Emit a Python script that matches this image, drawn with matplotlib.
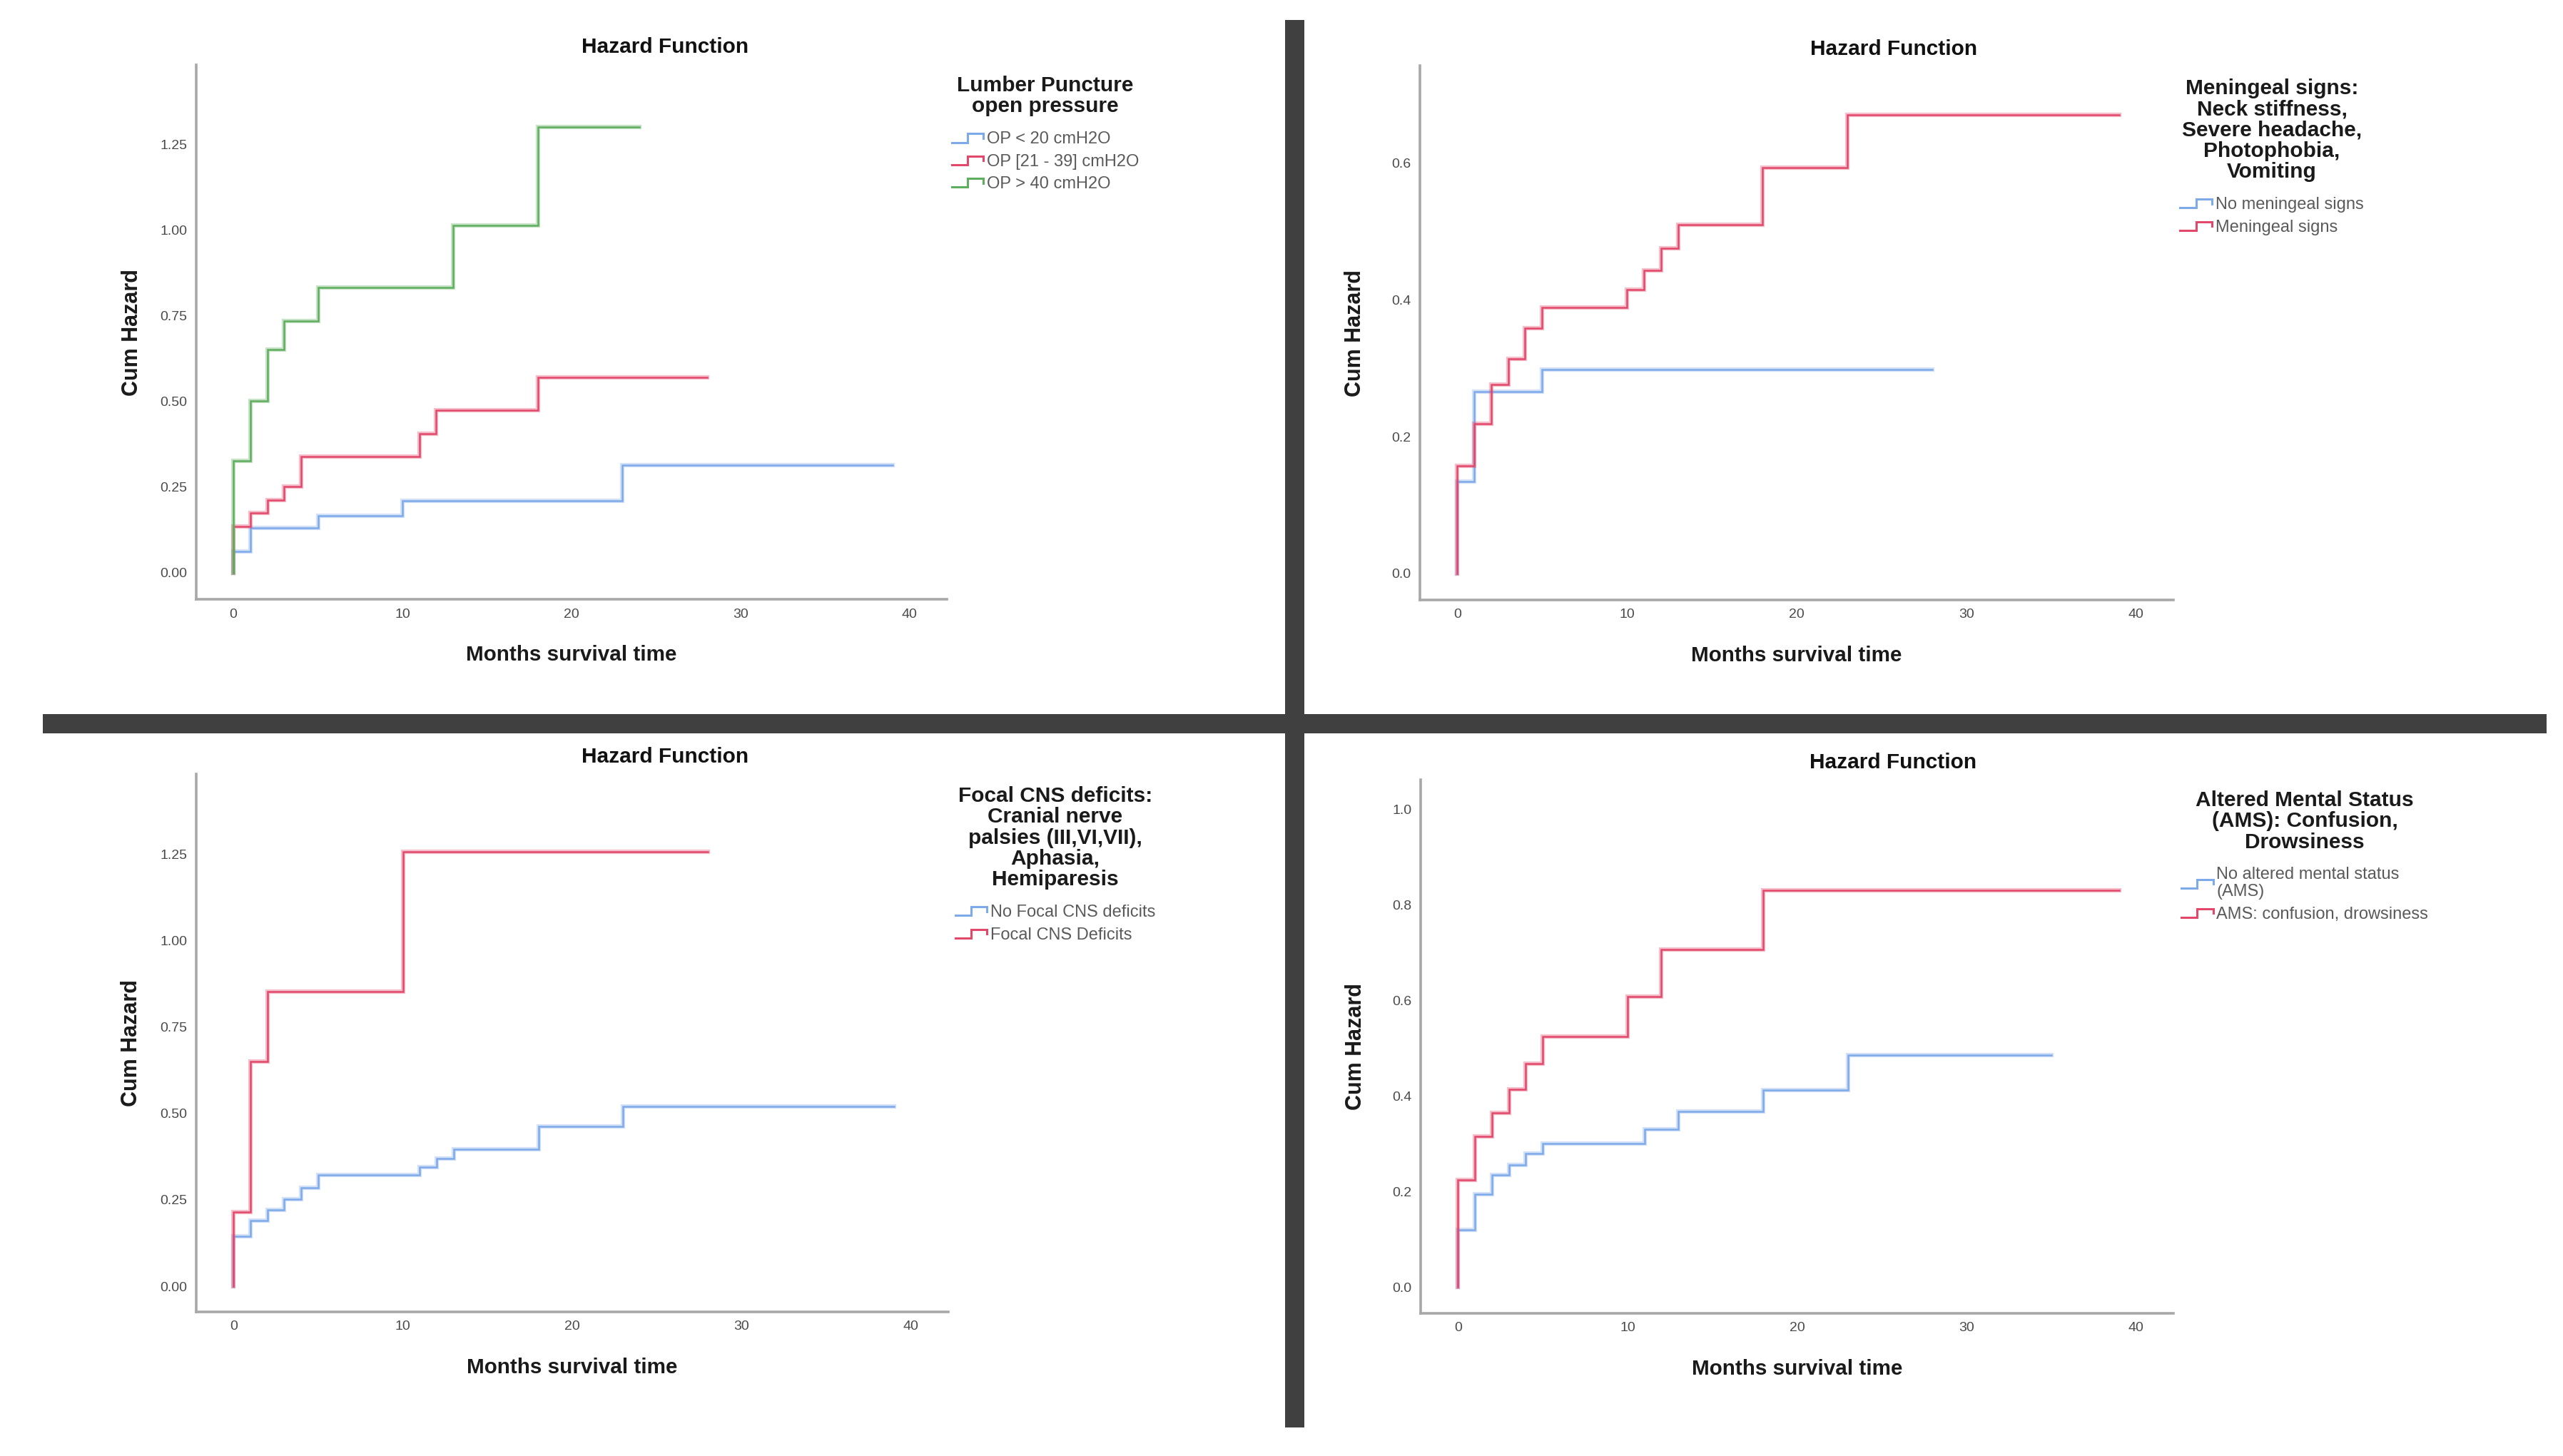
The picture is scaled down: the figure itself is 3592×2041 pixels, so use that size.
import matplotlib
matplotlib.use("Agg")
import matplotlib.pyplot as plt
from matplotlib.lines import Line2D
from matplotlib.legend_handler import HandlerBase
from matplotlib.patches import Rectangle

plt.rcParams['font.family'] = ['Liberation Sans', 'DejaVu Sans']

W, H = 3592, 2041
DPI = 100

BLUE = '#7eaaea'
RED = '#e2486a'
GREEN = '#5fae5f'

# ---- data (months, cumulative hazard) ----
# panel 1: lumbar puncture open pressure
op_low_t = [0, 0, 1, 5, 10, 23, 39]
op_low_h = [0, 0.063, 0.130, 0.166, 0.210, 0.315, 0.315]
op_mid_t = [0, 0, 1, 2, 3, 4, 11, 12, 18, 28]
op_mid_h = [0, 0.136, 0.174, 0.213, 0.251, 0.339, 0.406, 0.475, 0.570, 0.570]
op_high_t = [0, 0, 1, 2, 3, 5, 13, 18, 24]
op_high_h = [0, 0.326, 0.501, 0.650, 0.734, 0.831, 1.013, 1.300, 1.300]

# panel 2: meningeal signs
men_no_t = [0, 0, 1, 5, 28]
men_no_h = [0, 0.134, 0.266, 0.298, 0.298]
men_yes_t = [0, 0, 1, 2, 3, 4, 5, 10, 11, 12, 13, 18, 23, 39]
men_yes_h = [0, 0.157, 0.219, 0.276, 0.314, 0.358, 0.389, 0.415, 0.443, 0.475, 0.510, 0.593, 0.670, 0.670]

# panel 3: focal CNS deficits
cns_no_t = [0, 0, 1, 2, 3, 4, 5, 11, 12, 13, 18, 23, 39]
cns_no_h = [0, 0.145, 0.190, 0.220, 0.252, 0.285, 0.321, 0.344, 0.369, 0.396, 0.462, 0.519, 0.519]
cns_yes_t = [0, 0, 1, 2, 10, 28]
cns_yes_h = [0, 0.215, 0.650, 0.851, 1.257, 1.257]

# panel 4: altered mental status
ams_no_t = [0, 0, 1, 2, 3, 4, 5, 11, 13, 18, 23, 35]
ams_no_h = [0, 0.120, 0.194, 0.234, 0.256, 0.279, 0.301, 0.331, 0.368, 0.412, 0.486, 0.486]
ams_yes_t = [0, 0, 1, 2, 3, 4, 5, 10, 12, 18, 39]
ams_yes_h = [0, 0.224, 0.316, 0.364, 0.414, 0.468, 0.525, 0.608, 0.707, 0.830, 0.830]

x_ticks = [0, 10, 20, 30, 40]


class StepHandler(HandlerBase):
    # little step glyph used by SPSS legends
    def create_artists(self, legend, orig_handle, xdescent, ydescent,
                       width, height, fontsize, trans):
        xs = [0, 0.5, 0.5, 1.0, 1.0]
        ys = [0.1, 0.1, 0.85, 0.85, 0.45]
        x = [-xdescent + v * width for v in xs]
        y = [-ydescent + v * height for v in ys]
        ln = Line2D(x, y, color=orig_handle.get_color(), lw=2.2,
                    solid_joinstyle='miter')
        ln.set_transform(trans)
        return [ln]


def px_rect(left, top, right, bottom):
    return [left / W, 1 - bottom / H, (right - left) / W, (bottom - top) / H]


def make_panel(fig, rect, series, ylim, yticks, yfmt, title_xy,
               leg_title, leg_xy):
    ax = fig.add_axes(rect)
    handles = []
    for t, h, c, lab in series:
        ax.plot(t, h, drawstyle='steps-post', color=c, lw=4.5, alpha=0.35,
                solid_joinstyle='miter')
        ln, = ax.plot(t, h, drawstyle='steps-post', color=c, lw=1.8,
                      solid_joinstyle='miter', label=lab)
        handles.append(ln)
    ax.set_xlim(-2.2, 42.2)
    ax.set_ylim(*ylim)
    ax.set_xticks(x_ticks)
    ax.set_yticks(yticks)
    ax.set_yticklabels([yfmt % v for v in yticks])
    for s in ['top', 'right']:
        ax.spines[s].set_visible(False)
    for s in ['left', 'bottom']:
        ax.spines[s].set_color('#a8a8a8')
        ax.spines[s].set_linewidth(2.6)
    ax.tick_params(length=0, labelsize=14, labelcolor='#4a4a4a', pad=9)
    ax.set_xlabel('Months survival time', fontsize=21.3, fontweight='bold',
                  color='#1a1a1a')
    ax.xaxis.set_label_coords(0.5, -0.104)
    ax.xaxis.label.set_va('center')
    ax.set_ylabel('Cum Hazard', fontsize=22, fontweight='bold', color='#1a1a1a')
    ax.yaxis.set_label_coords(-0.086, 0.5)
    ax.yaxis.label.set_va('center')
    ax.text(title_xy[0], title_xy[1], 'Hazard Function', transform=ax.transAxes,
            ha='center', va='center', fontsize=21.5, fontweight='bold',
            color='#111111')
    leg = ax.legend(handles=handles, handler_map={Line2D: StepHandler()},
                    loc='upper center',
                    bbox_to_anchor=(leg_xy[0] / W, 1 - leg_xy[1] / H),
                    bbox_transform=fig.transFigure, frameon=False,
                    borderpad=0, borderaxespad=0, fontsize=17,
                    handlelength=1.9, handletextpad=0.2, labelspacing=0.4,
                    title=leg_title,
                    title_fontproperties={'weight': 'bold', 'size': 21.5},
                    alignment='center')
    # wider gap between the legend title and its entries
    leg._legend_box.sep = 15
    leg.get_title().set_multialignment('center')
    leg.get_title().set_linespacing(1.06)
    leg.get_title().set_color('#1a1a1a')
    for tx in leg.get_texts():
        tx.set_color('#5a5a5a')
        tx.set_linespacing(1.1)
    return ax


fig = plt.figure(figsize=(W / DPI, H / DPI), dpi=DPI)
fig.patch.set_facecolor('white')

make_panel(fig, px_rect(275, 91, 1327, 840),
           [(op_low_t, op_low_h, BLUE, 'OP < 20 cmH2O'),
            (op_mid_t, op_mid_h, RED, 'OP [21 - 39] cmH2O'),
            (op_high_t, op_high_h, GREEN, 'OP > 40 cmH2O')],
           (-0.077, 1.481), [0, 0.25, 0.5, 0.75, 1.0, 1.25], '%.2f',
           (0.6245, 1.033), 'Lumber Puncture\nopen pressure', (1465, 106))

make_panel(fig, px_rect(1990, 92, 3046, 841),
           [(men_no_t, men_no_h, BLUE, 'No meningeal signs'),
            (men_yes_t, men_yes_h, RED, 'Meningeal signs')],
           (-0.0386, 0.742), [0, 0.2, 0.4, 0.6], '%.1f',
           (0.629, 1.031),
           'Meningeal signs:\nNeck stiffness,\nSevere headache,\nPhotophobia,\nVomiting',
           (3184, 110))

make_panel(fig, px_rect(275, 1085, 1329, 1839),
           [(cns_no_t, cns_no_h, BLUE, 'No Focal CNS deficits'),
            (cns_yes_t, cns_yes_h, RED, 'Focal CNS Deficits')],
           (-0.074, 1.481), [0, 0.25, 0.5, 0.75, 1.0, 1.25], '%.2f',
           (0.623, 1.032),
           'Focal CNS deficits:\nCranial nerve\npalsies (III,VI,VII),\nAphasia,\nHemiparesis',
           (1479, 1102))

make_panel(fig, px_rect(1991, 1093, 3046, 1841),
           [(ams_no_t, ams_no_h, BLUE, 'No altered mental status\n(AMS)'),
            (ams_yes_t, ams_yes_h, RED, 'AMS: confusion, drowsiness')],
           (-0.055, 1.062), [0, 0.2, 0.4, 0.6, 0.8, 1.0], '%.1f',
           (0.628, 1.032),
           'Altered Mental Status\n(AMS): Confusion,\nDrowsiness',
           (3230, 1108))

# dark separator bars between the four screenshots
fig.add_artist(Rectangle((1801 / W, 1 - 2001 / H), 27 / W, (2001 - 28) / H,
                         transform=fig.transFigure, color='#404040', lw=0))
fig.add_artist(Rectangle((60 / W, 1 - 1028 / H), (3569 - 60) / W, 27 / H,
                         transform=fig.transFigure, color='#404040', lw=0))

fig.savefig('out.png', dpi=DPI, facecolor='white')
